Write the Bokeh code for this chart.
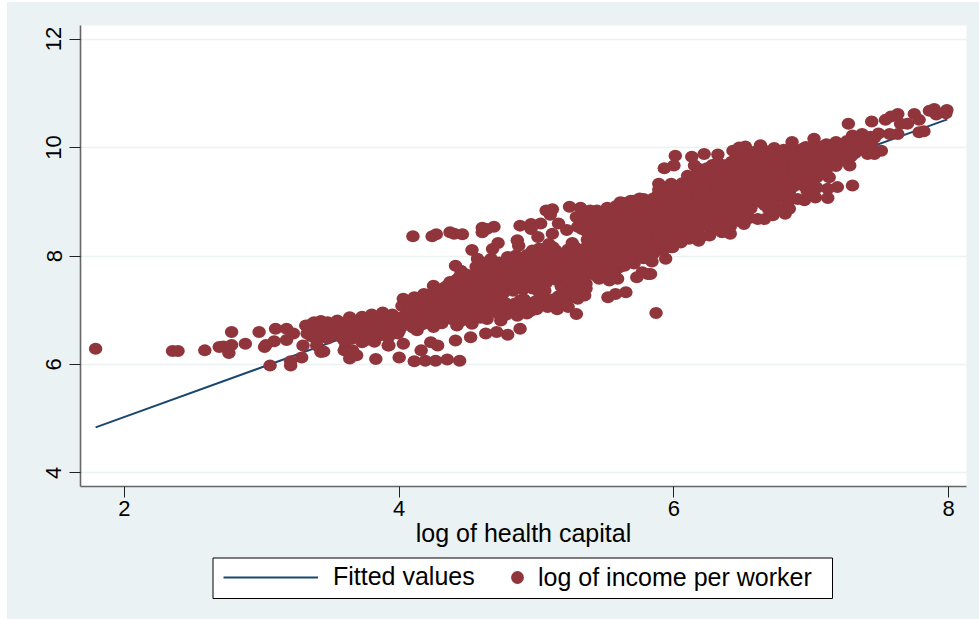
from bokeh.plotting import figure
from bokeh.layouts import column
from bokeh.models import (ColumnDataSource, Legend, LegendItem, FixedTicker, Range1d)
from bokeh.embed import file_html
from bokeh.resources import INLINE

x_ticks = [2, 4, 6, 8]
y_ticks = [4, 6, 8, 10, 12]
x_title = "log of health capital"
line_label = "Fitted values"
point_label = "log of income per worker"

fitted_x = [1.79, 7.99]
fitted_y = [4.84, 10.52]

left_tail = [(1.79,6.29),(2.35,6.25),(2.39,6.25),(2.585,6.26),(2.69,6.32),(2.72,6.33),(2.78,6.36),(2.76,6.21),(2.78,6.60),
(2.88,6.38),(2.98,6.60),(3.02,6.32),(3.03,6.36),(3.06,5.98),(3.10,6.66),(3.09,6.43),(3.18,6.66),(3.18,6.45),(3.21,5.98),
(3.21,6.06),(3.29,6.13),(3.30,6.35),(3.23,6.57),(3.32,6.72),(3.38,6.78),(3.43,6.80),(3.48,6.78),(3.33,6.57),(3.40,6.60),
(3.48,6.57),(3.40,6.45),(3.48,6.48),(3.40,6.35),(3.43,6.23),(3.45,6.24),(3.55,6.81),(3.64,6.87),(3.61,6.63),(3.67,6.57),
(3.55,6.60),(3.61,6.32),(3.60,6.26),(3.64,6.11),(3.69,6.17),(3.66,6.26),(3.73,6.41),(3.73,6.88),(3.80,6.92),(3.88,6.96),
(3.83,6.10),(3.92,6.35),(3.88,6.57),(3.79,6.60),(3.34,6.68),(3.38,6.62),(3.42,6.72),(3.46,6.66),(3.50,6.72),(3.53,6.64),
(3.57,6.74),(3.58,6.50),(3.62,6.78),(3.63,6.70),(3.66,6.48),(3.68,6.64),(3.70,6.80),(3.71,6.72),(3.74,6.56),(3.76,6.84),
(3.77,6.68),(3.80,6.78),(3.81,6.50),(3.84,6.62),(3.85,6.88),(3.87,6.72),(3.90,6.82),(3.92,6.50),(3.94,6.66),(3.95,6.92),
(3.97,6.76),(3.99,6.86),(4.00,6.62),(3.36,6.52),(3.44,6.55),(3.52,6.55),(3.56,6.68),(3.60,6.70),(3.65,6.78),(3.72,6.62),
(3.78,6.72),(3.83,6.80),(3.86,6.54),(3.89,6.66),(3.93,6.74),(3.96,6.58),(4.00,6.74),(3.42,6.66),(3.36,6.74),(3.70,6.52),
(3.82,6.42),(3.60,6.44),(3.76,6.45)]

outer_middle = [(4.10,8.365),(4.24,8.365),(4.27,8.40),(4.37,8.44),(4.40,8.41),(4.46,8.40),(4.605,8.52),(4.69,8.54),(4.605,8.44),
(4.64,8.50),(4.53,8.11),(4.68,8.13),(4.72,8.24),(4.86,8.29),(4.87,8.19),(4.88,8.56),(4.96,8.59),(5.03,8.60),(4.96,8.50),
(5.01,8.35),(5.07,8.84),(5.115,8.86),(5.10,8.76),(5.24,8.91),(5.32,8.89),(5.39,8.84),(5.515,8.89),(5.61,8.99),(5.685,9.02),
(5.78,9.05),(5.88,9.11),(5.16,8.60),(5.115,8.41),(5.08,8.16),(4.97,8.10),(4.79,7.98),(4.85,8.01),(4.41,7.82),(4.45,7.73),
(4.57,7.95),(4.67,7.95),(4.25,7.45),(4.03,7.21),(4.11,7.24),(4.18,7.30),(4.35,7.45),(4.41,7.55),(5.71,7.86),(5.84,7.90),
(5.94,7.95),(5.77,7.70),(5.73,7.61),(5.81,7.67),(5.60,7.79),(5.59,7.58),(5.53,7.55),(5.455,7.58),(5.65,7.33),(5.575,7.30),
(5.52,7.24),(5.87,6.95),(5.36,7.49),(5.35,7.27),(5.30,7.21),(5.29,6.93),(5.02,7.33),(5.10,7.09),(5.03,7.09),(4.88,6.66),
(4.79,6.55),(4.71,6.60),(4.63,6.57),(4.52,6.50),(4.41,6.44),(4.28,6.35),(4.23,6.41),(4.16,6.26),(4.11,6.06),(4.19,6.07),
(4.265,6.07),(4.35,6.09),(4.44,6.07),(4.00,6.13),(3.925,6.35),(4.03,6.38),(3.89,6.57),(3.99,6.57),(4.13,6.63),(4.25,6.69),
(4.42,6.72),(4.53,6.75),(4.64,6.84),(4.74,6.81),(4.84,6.99),(4.96,6.99),(5.08,7.06),(5.18,7.12)]

outer_upper = [(7.987,10.69),(7.895,10.71),(7.86,10.68),(7.91,10.61),(7.98,10.63),(7.82,10.30),(7.785,10.28),(7.75,10.62),(7.785,10.51),
(7.70,10.44),(7.65,10.44),(7.63,10.62),(7.58,10.57),(7.54,10.51),(7.44,10.48),(7.27,10.44),(7.63,10.25),(7.57,10.25),(7.49,10.26),
(7.37,10.25),(7.30,10.22),(7.02,10.16),(6.86,10.10),(7.18,10.10),(7.51,9.94),(7.41,9.88),(7.46,9.88),(7.28,9.67),(7.30,9.30),
(7.19,9.27),(7.12,9.07),(7.03,9.08),(7.12,9.24),(7.04,9.45),(7.13,9.45),(6.95,9.03),(6.90,9.05),(6.81,8.78),(6.84,8.87),
(6.72,8.75),(6.66,8.68),(6.61,8.68),(6.51,8.59),(6.41,8.41),(6.35,8.44),(6.26,8.38),(6.18,8.28),(6.11,8.32),(6.05,8.25),
(5.98,8.16),(5.83,7.67),(5.93,9.62),(6.01,9.85),(6.00,9.67),(6.13,9.83),(6.22,9.88),(6.32,9.87),(6.43,9.94),(6.475,10.0),
(6.52,10.02),(6.47,9.82),(6.32,9.73),(6.39,9.62),(6.63,10.04),(6.61,9.91),(6.73,9.99),(5.89,9.33),(5.98,9.33),(6.96,10.01),
(6.80,9.94),(6.15,9.67),(6.10,9.48),(6.04,9.21)]

band_lower = [(4.03,6.72),(4.04,6.90),(4.02,7.08),(4.10,6.68),(4.09,6.84),(4.11,7.02),(4.10,7.18),(4.17,6.74),(4.18,6.92),(4.16,7.10),
(4.18,7.26),(4.24,6.80),(4.23,6.98),(4.25,7.14),(4.24,7.32),(4.31,6.76),(4.32,6.94),(4.30,7.12),(4.31,7.28),(4.33,7.42),
(4.38,6.84),(4.37,7.02),(4.39,7.20),(4.38,7.36),(4.37,7.52),(4.45,6.80),(4.46,6.96),(4.44,7.14),(4.45,7.30),(4.46,7.48),
(4.44,7.62),(4.52,6.90),(4.51,7.06),(4.53,7.24),(4.52,7.42),(4.51,7.60),(4.59,6.86),(4.60,7.02),(4.58,7.20),(4.59,7.38),
(4.60,7.54),(4.58,7.72),(4.59,7.84),(4.66,6.96),(4.65,7.12),(4.67,7.30),(4.66,7.46),(4.65,7.64),(4.67,7.80),(4.66,7.92),
(4.73,6.92),(4.72,7.08),(4.74,7.26),(4.73,7.44),(4.72,7.60),(4.74,7.78),(4.73,7.88),(4.80,7.04),(4.79,7.42),(4.81,7.58),
(4.80,7.74),(4.79,7.90),(4.87,7.02),(4.88,7.18),(4.86,7.46),(4.87,7.62),(4.88,7.80),(4.86,7.96),(4.94,7.10),(4.93,7.46),
(4.95,7.66),(4.94,7.84),(4.93,8.02),(5.01,7.16),(5.00,7.48),(5.02,7.64),(5.01,7.82),(5.00,7.98),(5.02,8.14),(5.08,7.18),
(5.07,7.50),(5.09,7.68),(5.08,7.86),(5.07,8.04),(5.09,8.22),(5.15,7.14),(5.16,7.26),(5.14,7.56),(5.15,7.74),(5.16,7.92),(5.14,8.10),
(4.76,7.32),(4.83,7.36),(4.90,7.38),(4.97,7.40),(5.06,7.36),(5.18,7.44),(4.90,7.20),(4.99,7.16),(5.05,7.20),(5.19,7.30),(5.26,7.38),
(4.78,6.92),(4.86,6.90),(4.93,6.94),(5.00,7.02),(5.15,7.02),(5.23,7.06)]

band_middle = [(5.22,7.18),(5.21,7.30),(5.23,7.58),(5.22,7.76),(5.21,7.94),(5.23,8.12),(5.22,8.48),(5.29,7.24),(5.30,7.42),(5.28,7.62),
(5.29,7.80),(5.30,7.98),(5.28,8.16),(5.30,8.54),(5.29,8.72),(5.36,7.40),(5.35,7.62),(5.37,7.78),(5.36,7.96),(5.35,8.14),
(5.37,8.30),(5.36,8.46),(5.36,8.76),(5.43,7.64),(5.44,7.82),(5.42,8.00),(5.43,8.18),(5.44,8.34),(5.42,8.52),(5.43,8.70),
(5.44,8.84),(5.50,7.70),(5.49,7.88),(5.51,8.04),(5.50,8.22),(5.49,8.40),(5.51,8.58),(5.50,8.74),(5.57,7.72),(5.58,7.90),
(5.56,8.08),(5.57,8.26),(5.58,8.44),(5.56,8.60),(5.57,8.78),(5.58,8.92),(5.64,7.82),(5.63,8.00),(5.65,8.16),(5.64,8.34),
(5.63,8.52),(5.65,8.70),(5.64,8.86),(5.63,8.98),(5.71,8.02),(5.72,8.20),(5.70,8.36),(5.71,8.54),(5.72,8.72),(5.70,8.88),
(5.71,9.02),(5.78,7.96),(5.77,8.14),(5.79,8.30),(5.78,8.48),(5.77,8.66),(5.79,8.84),(5.78,9.00),(5.85,8.04),(5.86,8.22),
(5.84,8.40),(5.85,8.58),(5.86,8.74),(5.84,8.92),(5.85,9.06),(5.92,8.10),(5.91,8.28),(5.93,8.46),(5.92,8.62),(5.91,8.80),
(5.93,8.98),(5.92,9.14),(5.99,8.16),(6.00,8.32),(5.98,8.50),(5.99,8.68),(6.00,8.86),(5.98,9.04),(5.99,9.20)]

band_upper = [(6.06,8.30),(6.05,8.48),(6.07,8.64),(6.06,8.82),(6.05,9.00),(6.07,9.16),(6.06,9.34),(6.13,8.34),(6.14,8.52),(6.12,8.70),
(6.13,8.88),(6.14,9.06),(6.12,9.24),(6.13,9.42),(6.20,8.36),(6.19,8.54),(6.21,8.72),(6.20,8.90),(6.19,9.08),(6.21,9.26),
(6.20,9.44),(6.19,9.60),(6.27,8.48),(6.28,8.66),(6.26,8.84),(6.27,9.02),(6.28,9.20),(6.26,9.38),(6.27,9.54),(6.28,9.68),
(6.34,8.50),(6.33,8.68),(6.35,8.86),(6.34,9.04),(6.33,9.22),(6.35,9.40),(6.34,9.58),(6.41,8.54),(6.42,8.72),(6.40,8.90),
(6.41,9.08),(6.42,9.26),(6.40,9.44),(6.41,9.60),(6.42,9.74),(6.48,8.64),(6.47,8.82),(6.49,9.00),(6.48,9.18),(6.47,9.34),
(6.49,9.52),(6.48,9.70),(6.55,8.70),(6.56,8.88),(6.54,9.06),(6.55,9.24),(6.56,9.42),(6.54,9.60),(6.55,9.78),(6.62,9.00),
(6.61,9.14),(6.63,9.32),(6.62,9.50),(6.61,9.66),(6.63,9.84),(6.69,8.86),(6.70,9.04),(6.68,9.22),(6.69,9.40),(6.70,9.56),
(6.68,9.74),(6.69,9.90),(6.76,8.88),(6.75,9.08),(6.77,9.26),(6.76,9.44),(6.75,9.62),(6.77,9.80),(6.76,9.92),(6.83,9.00),
(6.84,9.18),(6.82,9.36),(6.83,9.54),(6.84,9.72),(6.82,9.90),(6.90,9.38),(6.89,9.56),(6.91,9.74),(6.90,9.92),(6.97,9.20),
(6.96,9.38),(6.98,9.56),(6.97,9.74),(6.96,9.90),(7.04,9.26),(7.03,9.58),(7.05,9.76),(7.04,9.94),(7.03,10.04),(7.11,9.60),
(7.10,9.78),(7.12,9.96),(7.11,10.06),(7.18,9.66),(7.17,9.84),(7.19,9.98),(7.25,9.84),(7.24,10.00),(7.26,10.12),(7.32,9.90),
(7.31,10.06),(7.33,10.16),(7.39,9.96),(7.38,10.12),(7.45,9.92),(7.44,10.04),(7.46,10.18)]

band_between_low = [(4.07,6.80),(4.07,6.98),(4.07,7.14),(4.14,6.78),(4.14,6.96),(4.14,7.10),(4.21,6.86),(4.21,7.04),(4.21,7.20),
(4.28,6.88),(4.28,7.06),(4.28,7.22),(4.28,7.38),(4.35,6.92),(4.35,7.10),(4.35,7.28),(4.35,7.44),(4.42,6.88),(4.42,7.06),(4.42,7.22),
(4.42,7.40),(4.42,7.56),(4.49,6.98),(4.49,7.16),(4.49,7.34),(4.49,7.50),(4.49,7.66),(4.56,6.96),(4.56,7.14),(4.56,7.32),(4.56,7.48),
(4.56,7.66),(4.56,7.80),(4.63,7.04),(4.63,7.22),(4.63,7.40),(4.63,7.56),(4.63,7.72),(4.63,7.86),(4.70,7.02),(4.70,7.18),(4.70,7.36),
(4.70,7.52),(4.70,7.70),(4.70,7.86),(4.77,7.14),(4.77,7.50),(4.77,7.66),(4.77,7.84),(4.84,7.12),(4.84,7.54),(4.84,7.70),(4.84,7.88),
(4.91,7.20),(4.91,7.56),(4.91,7.74),(4.91,7.92),(4.98,7.56),(4.98,7.74),(4.98,7.90),(4.98,8.06),(5.05,7.58),(5.05,7.76),(5.05,7.94),
(5.05,8.10),(5.12,7.20),(5.12,7.62),(5.12,7.80),(5.12,7.98),(5.12,8.16),(5.19,7.66),(5.19,7.84),(5.19,8.02),(5.26,7.52),(5.26,7.70),
(5.26,7.88),(5.26,8.06),(5.26,8.24),(5.33,7.52),(5.33,7.70),(5.33,7.88),(5.33,8.06),(5.33,8.50),(5.33,8.66),(5.40,7.72),(5.40,7.90),
(5.40,8.08),(5.40,8.26),(5.40,8.44),(5.40,8.60),(5.47,7.78),(5.47,7.96),(5.47,8.12),(5.47,8.30),(5.47,8.48),(5.47,8.66),(5.47,8.80)]

band_between_mid = [(5.54,7.80),(5.54,7.98),(5.54,8.16),(5.54,8.34),(5.54,8.50),(5.54,8.68),(5.54,8.84),(5.61,7.90),(5.61,8.08),(5.61,8.26),
(5.61,8.42),(5.61,8.60),(5.61,8.78),(5.61,8.90),(5.68,7.94),(5.68,8.12),(5.68,8.28),(5.68,8.46),(5.68,8.62),(5.68,8.80),(5.68,8.96),
(5.75,8.06),(5.75,8.22),(5.75,8.40),(5.75,8.58),(5.75,8.76),(5.75,8.92),(5.75,9.06),(5.82,8.12),(5.82,8.30),(5.82,8.48),(5.82,8.66),
(5.82,8.84),(5.82,8.98),(5.89,8.18),(5.89,8.36),(5.89,8.54),(5.89,8.72),(5.89,8.90),(5.89,9.06),(5.89,9.22),(5.96,8.24),(5.96,8.42),
(5.96,8.60),(5.96,8.76),(5.96,8.94),(5.96,9.12),(5.96,9.28),(6.03,8.40),(6.03,8.56),(6.03,8.74),(6.03,8.92),(6.03,9.08),(6.03,9.26),
(6.10,8.42),(6.10,8.60),(6.10,8.78),(6.10,8.96),(6.10,9.14),(6.10,9.32),(6.17,8.46),(6.17,8.62),(6.17,8.80),(6.17,8.98),(6.17,9.16),
(6.17,9.34),(6.17,9.52),(6.24,8.56),(6.24,8.74),(6.24,8.92),(6.24,9.10),(6.24,9.28),(6.24,9.46),(6.24,9.62),(6.31,8.58),(6.31,8.76),
(6.31,8.94),(6.31,9.12),(6.31,9.30),(6.31,9.48),(6.31,9.64)]

band_between_top = [(6.38,8.62),(6.38,8.80),(6.38,8.98),(6.38,9.16),(6.38,9.34),(6.38,9.52),(6.38,9.68),(6.45,8.72),(6.45,8.90),(6.45,9.08),
(6.45,9.26),(6.45,9.44),(6.45,9.60),(6.45,9.76),(6.52,8.78),(6.52,8.96),(6.52,9.14),(6.52,9.32),(6.52,9.50),(6.52,9.68),(6.52,9.84),
(6.59,9.06),(6.59,9.22),(6.59,9.40),(6.59,9.58),(6.59,9.76),(6.59,9.92),(6.66,8.94),(6.66,9.12),(6.66,9.30),(6.66,9.48),(6.66,9.66),
(6.66,9.82),(6.66,9.94),(6.73,8.96),(6.73,9.14),(6.73,9.32),(6.73,9.50),(6.73,9.68),(6.73,9.86),(6.80,9.08),(6.80,9.26),(6.80,9.44),
(6.80,9.62),(6.80,9.80),(6.80,9.96),(6.87,9.28),(6.87,9.46),(6.87,9.64),(6.87,9.82),(6.87,9.98),(6.94,9.30),(6.94,9.48),(6.94,9.66),
(6.94,9.84),(6.94,9.98),(7.01,9.36),(7.01,9.50),(7.01,9.68),(7.01,9.86),(7.01,10.02),(7.08,9.52),(7.08,9.68),(7.08,9.86),(7.08,10.02),
(7.15,9.72),(7.15,9.90),(7.15,10.04),(7.22,9.76),(7.22,9.92),(7.22,10.06),(7.29,9.84),(7.29,9.98),(7.29,10.12),(7.36,10.00),(7.36,10.14),
(7.36,10.20),(7.43,10.08),(7.43,10.20)]

points = (left_tail + outer_middle + outer_upper + band_lower + band_middle + band_upper
          + band_between_low + band_between_mid + band_between_top)
income_x = [q[0] for q in points]
income_y = [q[1] for q in points]

BG = "#eaf2f3"
NAVY = "#1a476f"
MAROON = "#90353b"
FONT = "Liberation Sans"

p = figure(width=972, height=554, output_backend="svg", toolbar_location=None,
           x_range=(1.68, 8.13), y_range=(3.75, 12.25),
           min_border_left=73, min_border_right=13, min_border_top=23, min_border_bottom=70)
p.background_fill_color = "white"
p.border_fill_color = BG
p.outline_line_color = None

p.line(fitted_x, fitted_y, line_color=NAVY, line_width=2)
src = ColumnDataSource(dict(x=income_x, y=income_y))
p.ellipse("x", "y", width=13.5, height=12, width_units="screen", height_units="screen",
          source=src, fill_color=MAROON, line_color=MAROON, line_width=0)

p.xgrid.visible = False
p.ygrid.grid_line_color = BG
p.ygrid.grid_line_width = 1.5
p.ygrid.ticker = FixedTicker(ticks=y_ticks)

for ax, ticks in ((p.xaxis[0], x_ticks), (p.yaxis[0], y_ticks)):
    ax.ticker = FixedTicker(ticks=ticks)
    ax.minor_tick_line_color = None
    ax.major_tick_in = 0
    ax.major_tick_out = 11
    ax.major_tick_line_color = "#222222"
    ax.major_tick_line_width = 1
    ax.axis_line_color = "#666666"
    ax.axis_line_width = 1.6
    ax.major_label_text_font = FONT
    ax.major_label_text_font_size = "22px"
    ax.major_label_text_color = "black"

p.xaxis[0].major_label_standoff = 3
p.yaxis[0].major_label_standoff = 8
p.yaxis[0].major_label_orientation = "vertical"
p.xaxis[0].axis_label = x_title
p.xaxis[0].axis_label_text_font = FONT
p.xaxis[0].axis_label_text_font_size = "25px"
p.xaxis[0].axis_label_text_font_style = "normal"
p.xaxis[0].axis_label_text_color = "black"
p.xaxis[0].axis_label_standoff = 0

# legend strip below the plot; the column aligns its frame with the plot's frame, its ranges run in picture pixels
lg = figure(width=972, height=63, output_backend="svg", toolbar_location=None,
            x_range=Range1d(80, 966), y_range=Range1d(619, 556),
            x_axis_type=None, y_axis_type=None,
            min_border_left=0, min_border_right=0, min_border_top=0, min_border_bottom=0)
lg.grid.visible = False
lg.outline_line_color = None
lg.background_fill_color = None
lg.border_fill_color = None
lg.quad(left=[212.5], right=[832], top=[557.5], bottom=[598], fill_color="white", line_color="black", line_width=1)
# the key renderers sit outside the strip's ranges: only their legend glyphs show
key_line = lg.line([0, 1], [0, 1], line_color=NAVY, line_width=2)
key_point = lg.scatter([0], [0], marker="circle", size=13, fill_color=MAROON, line_color=MAROON, line_width=0)

def legend(item_label, renderer, x, y, glyph_width, glyph_height, standoff):
    return Legend(items=[LegendItem(label=item_label, renderers=[renderer])],
                  location=(x, y), orientation="horizontal",
                  glyph_width=glyph_width, glyph_height=glyph_height, label_standoff=standoff,
                  padding=0, margin=0, spacing=0,
                  background_fill_alpha=0, border_line_color=None,
                  label_text_font=FONT, label_text_font_size="25px", label_text_color="black")

lg.add_layout(legend(line_label, key_line, 143, 28, 95, 20, 15), "center")
lg.add_layout(legend(point_label, key_point, 421, 26, 32, 32, 5), "center")

page = column(p, lg, spacing=0, margin=(2, 0, 0, 7), styles={"background-color": BG})
open("out.html", "w").write(file_html(page, INLINE))
